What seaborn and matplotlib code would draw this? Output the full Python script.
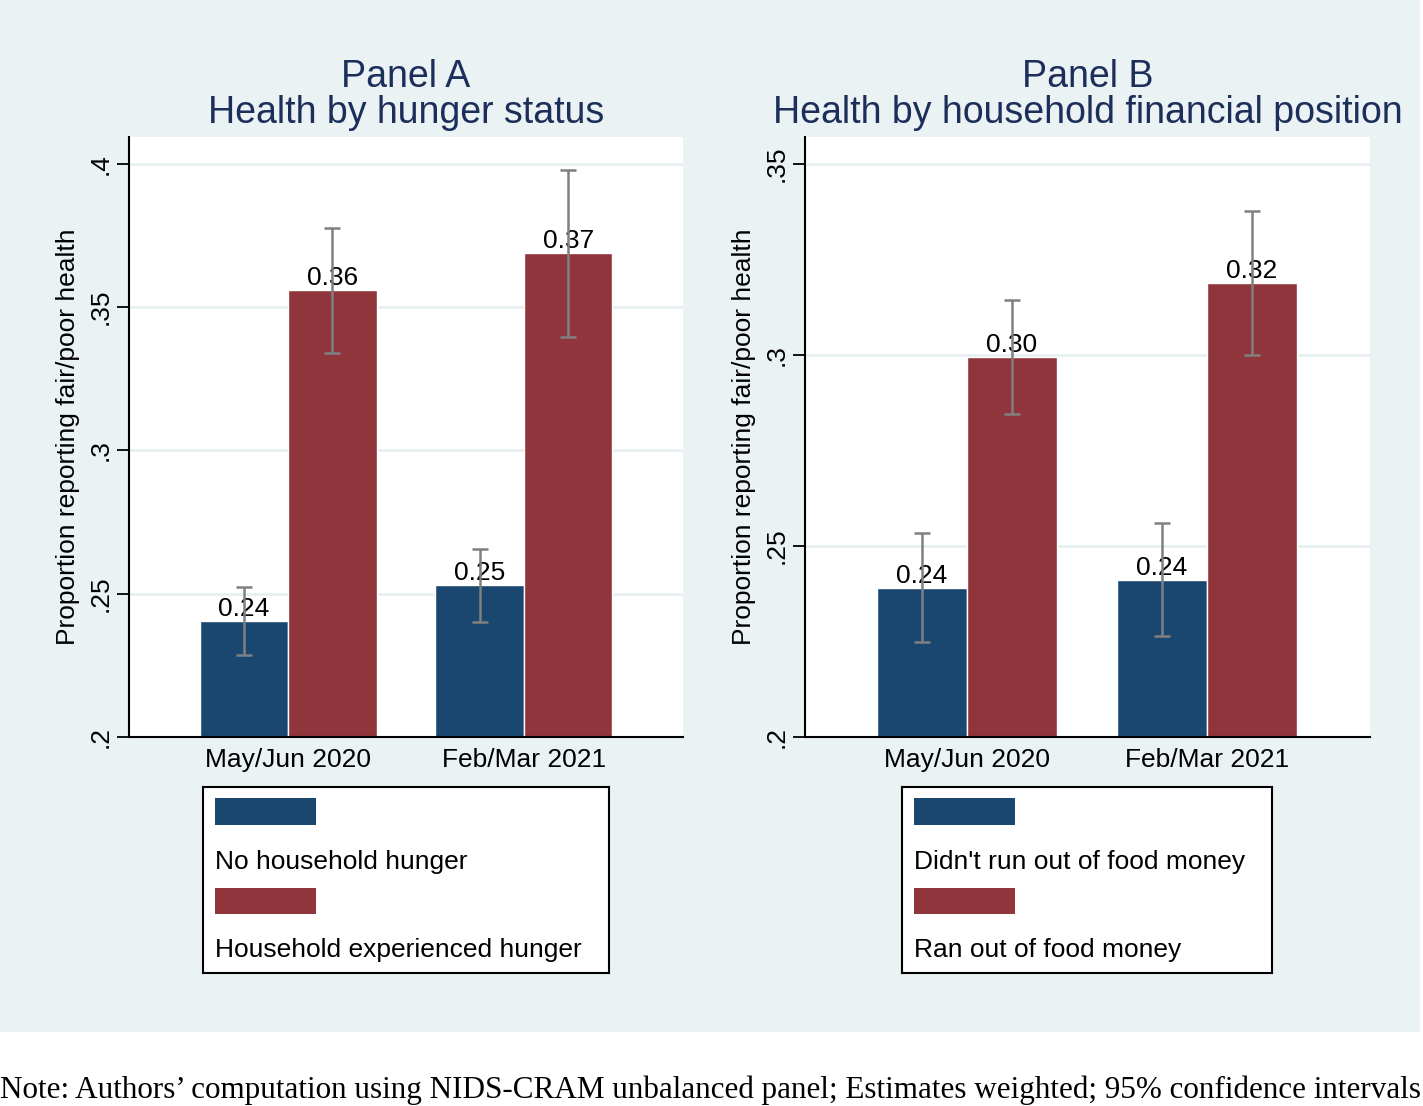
import numpy as np
import pandas as pd
import matplotlib
matplotlib.use("Agg")
import matplotlib.pyplot as plt
import seaborn as sns
from matplotlib.patches import Rectangle

# data
periods = ["May/Jun 2020", "Feb/Mar 2021"]

a_groups = ["No household hunger", "Household experienced hunger"]
a_no = [0.2405, 0.253]
a_no_lo = [0.2286, 0.2401]
a_no_hi = [0.2524, 0.2656]
a_yes = [0.356, 0.369]
a_yes_lo = [0.334, 0.3396]
a_yes_hi = [0.3777, 0.398]

b_groups = ["Didn't run out of food money", "Ran out of food money"]
b_no = [0.239, 0.2411]
b_no_lo = [0.2249, 0.2264]
b_no_hi = [0.2534, 0.256]
b_yes = [0.2995, 0.3188]
b_yes_lo = [0.2846, 0.300]
b_yes_hi = [0.3144, 0.3377]

a_ticks = [0.2, 0.25, 0.3, 0.35, 0.4]
a_ticklabels = [".2", ".25", ".3", ".35", ".4"]
b_ticks = [0.2, 0.25, 0.3, 0.35]
b_ticklabels = [".2", ".25", ".3", ".35"]

note = ("Note: Authors\u2019 computation using NIDS-CRAM unbalanced panel; "
        "Estimates weighted; 95% confidence intervals")

BG = "#EAF2F3"
GRID = "#E4EEF0"
BLUE = "#1A476F"
RED = "#90353B"
TITLE = "#1C2E5A"

sns.set_theme(style="white")
plt.rcParams["font.family"] = ["Liberation Sans", "DejaVu Sans"]
plt.rcParams["text.color"] = "black"
plt.rcParams["axes.labelcolor"] = "black"
plt.rcParams["xtick.color"] = "black"
plt.rcParams["ytick.color"] = "black"

W, H = 1423, 1106
fig = plt.figure(figsize=(W / 100, H / 100), dpi=100)
fig.patch.set_facecolor("white")
fig.patches.append(Rectangle((0, 1 - 1032 / H), 1420 / W, 1032 / H,
                             transform=fig.transFigure, facecolor=BG,
                             edgecolor="none", zorder=-10))


def fbox(x0, y0, x1, y1):
    return [x0 / W, 1 - y1 / H, (x1 - x0) / W, (y1 - y0) / H]


panels = [
    dict(title="Panel A\nHealth by hunger status", groups=a_groups,
         vals=[a_no, a_yes], lo=[a_no_lo, a_yes_lo], hi=[a_no_hi, a_yes_hi],
         ylim=(0.2, 0.4094), ticks=a_ticks, ticklabels=a_ticklabels,
         box=(129, 137, 683, 737), xlim=(-0.674, 1.674),
         leg=(203, 787, 609, 973)),
    dict(title="Panel B\nHealth by household financial position", groups=b_groups,
         vals=[b_no, b_yes], lo=[b_no_lo, b_yes_lo], hi=[b_no_hi, b_yes_hi],
         ylim=(0.2, 0.3571), ticks=b_ticks, ticklabels=b_ticklabels,
         box=(805, 137, 1370, 737), xlim=(-0.675, 1.679),
         leg=(902, 787, 1272, 973)),
]

FS = 19

for p in panels:
    df = pd.DataFrame({
        "period": periods * 2,
        "group": [p["groups"][0]] * 2 + [p["groups"][1]] * 2,
        "value": p["vals"][0] + p["vals"][1],
    })
    ax = fig.add_axes(fbox(*p["box"]))
    ax.set_facecolor("white")
    sns.barplot(data=df, x="period", y="value", hue="group",
                hue_order=p["groups"], order=periods,
                palette=[BLUE, RED], width=0.75, errorbar=None,
                saturation=1, legend=False, ax=ax, zorder=2)

    for cont, lo, hi in zip(ax.containers, p["lo"], p["hi"]):
        xs = np.array([b.get_x() + b.get_width() / 2 for b in cont])
        ys = np.array([b.get_height() for b in cont])
        ax.bar_label(cont, fmt="%.2f", padding=0, fontsize=FS, zorder=3)
        ax.errorbar(xs, ys, yerr=[ys - np.array(lo), np.array(hi) - ys],
                    fmt="none", ecolor="#808080", elinewidth=1.8,
                    capsize=5.5, capthick=1.8, zorder=4)

    ax.set_xlim(*p["xlim"])
    ax.set_ylim(*p["ylim"])
    ax.set_yticks(p["ticks"])
    ax.set_yticklabels(p["ticklabels"], rotation=90, va="center", fontsize=FS)
    ax.yaxis.grid(True, color=GRID, lw=1.8)
    ax.set_axisbelow(True)
    ax.tick_params(axis="y", length=9, width=1.3, color="black", pad=3, left=True)
    ax.tick_params(axis="x", length=0, pad=8, labelsize=FS)
    for s in ["top", "right"]:
        ax.spines[s].set_visible(False)
    for s in ["left", "bottom"]:
        ax.spines[s].set_color("black")
        ax.spines[s].set_linewidth(1.5)
    ax.set_xlabel("")
    ax.set_ylabel("Proportion reporting fair/poor health", fontsize=FS, labelpad=6)
    ax.set_title(p["title"], fontsize=27, color=TITLE, pad=10, linespacing=1.02)

    # legend box in Stata style: key above label
    x0, y0, x1, y1 = p["leg"]
    lax = fig.add_axes(fbox(x0, y0, x1, y1))
    lax.set_xlim(0, x1 - x0)
    lax.set_ylim(y1 - y0, 0)
    lax.set_facecolor("white")
    lax.set_xticks([])
    lax.set_yticks([])
    for s in lax.spines.values():
        s.set_color("black")
        s.set_linewidth(1.5)
    lax.add_patch(Rectangle((12, 11), 101, 27, facecolor=BLUE, edgecolor="none"))
    lax.add_patch(Rectangle((12, 101), 101, 26, facecolor=RED, edgecolor="none"))
    lax.text(12, 75, p["groups"][0], fontsize=FS, va="center", ha="left")
    lax.text(12, 163, p["groups"][1], fontsize=FS, va="center", ha="left")

fig.text(0.0, 1 - 1090 / H, note, fontfamily=["Liberation Serif"],
         fontsize=22.4, va="center", ha="left")

fig.savefig("out.png", dpi=100)
